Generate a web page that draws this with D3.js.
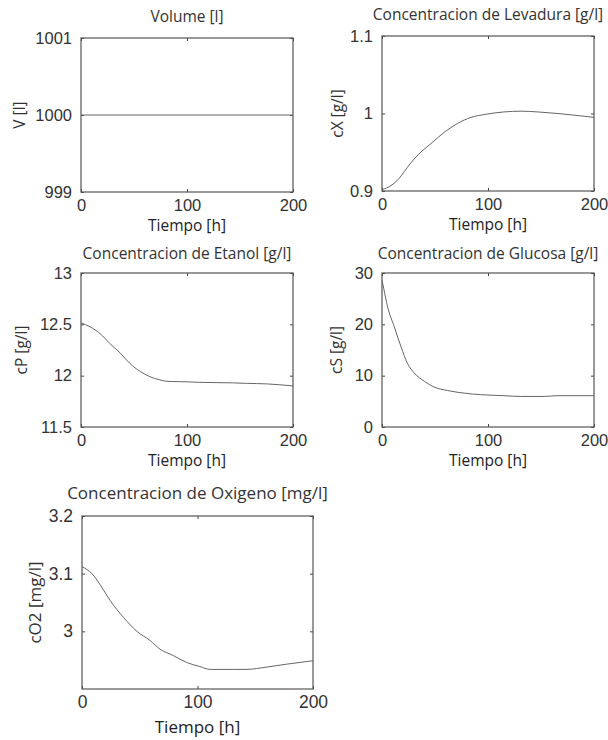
<!DOCTYPE html>
<html>
<head>
<meta charset="utf-8">
<script src="https://cdn.jsdelivr.net/npm/d3@7"></script>
<style>
  body { margin: 0; background: #fff; }
  svg { display: block; font-family: "Open Sans", sans-serif; }
  .tick text { fill: #333; }
</style>
</head>
<body>
<div id="chart"></div>
<script>
// time axis and x ticks shared by all panels
const xTicks = [0, 100, 200]

// Volume [l]
const tV = [0, 200]
const volume = [1000, 1000]

// Levadura (cX)
const tX = [0, 8.5, 16, 21, 27, 35, 46, 59, 71, 84, 98, 115, 131, 147, 166, 187, 200]
const cX = [0.9017, 0.907, 0.916, 0.925, 0.936, 0.948, 0.961, 0.976, 0.987, 0.995, 0.999, 1.002, 1.003, 1.002, 1.0, 0.997, 0.995]

// Etanol (cP)
const tP = [0, 8.5, 18, 27, 37, 46, 56, 65, 74, 81, 100, 112, 143, 156, 175, 200]
const cP = [12.515, 12.476, 12.41, 12.315, 12.22, 12.12, 12.04, 11.99, 11.96, 11.945, 11.94, 11.935, 11.93, 11.925, 11.92, 11.9]

// Glucosa (cS)
const tS = [0, 1.6, 5.3, 11.6, 18, 24, 30.5, 40, 49, 62, 77.5, 93, 115, 131, 153, 165, 200]
const cS = [28.6, 27.0, 23.4, 19.5, 15.6, 12.4, 10.5, 8.9, 7.8, 7.1, 6.6, 6.3, 6.1, 5.95, 5.95, 6.1, 6.1]

// Oxigeno (cO2)
const tO = [0, 8.6, 16, 24.5, 36, 47.5, 59, 67.6, 79, 90.6, 102, 111, 131, 142, 160, 177, 200]
const cO2 = [3.112, 3.1, 3.08, 3.053, 3.024, 3.0, 2.984, 2.969, 2.958, 2.946, 2.939, 2.934, 2.934, 2.934, 2.938, 2.943, 2.949]

const panels = [
    {title: "Volume [l]", ylabel: "V [l]", t: tV, y: volume, ydom: [999, 1001], yticks: [999, 1000, 1001],
     box: {x: 81, y: 38, w: 212, h: 154}, fs: 15.5, tfs: 16.5, titleY: 22, xlabelY: 231, ylabelX: 20},
    {title: "Concentracion de Levadura [g/l]", ylabel: "cX [g/l]", t: tX, y: cX, ydom: [0.9, 1.1], yticks: [0.9, 1, 1.1],
     box: {x: 382, y: 36, w: 212, h: 155}, fs: 15.5, tfs: 16.5, titleY: 20, xlabelY: 230, ylabelX: 338},
    {title: "Concentracion de Etanol [g/l]", ylabel: "cP [g/l]", t: tP, y: cP, ydom: [11.5, 13], yticks: [11.5, 12, 12.5, 13],
     box: {x: 81, y: 273, w: 212, h: 154}, fs: 15.5, tfs: 16.5, titleY: 259, xlabelY: 466, ylabelX: 22},
    {title: "Concentracion de Glucosa [g/l]", ylabel: "cS [g/l]", t: tS, y: cS, ydom: [0, 30], yticks: [0, 10, 20, 30],
     box: {x: 382, y: 273, w: 212, h: 154}, fs: 15.5, tfs: 16.5, titleY: 259, xlabelY: 466, ylabelX: 337},
    {title: "Concentracion de Oxigeno [mg/l]", ylabel: "cO2 [mg/l]", t: tO, y: cO2, ydom: [2.9, 3.2], yticks: [3, 3.1, 3.2],
     box: {x: 82, y: 516, w: 231, h: 173}, fs: 17, tfs: 17.5, titleY: 499, xlabelY: 733, ylabelX: 35}
]

const svg = d3.select("#chart").append("svg")
              .attr("width", 608)
              .attr("height", 740)

panels.forEach(p => {
    const b = p.box
    const x = d3.scaleLinear().domain([0, 200]).range([b.x, b.x + b.w])
    const y = d3.scaleLinear().domain(p.ydom).range([b.y + b.h, b.y])
    const g = svg.append("g")

    // axes with inward ticks, mirrored on top / right
    const style = a => a.call(s => s.select(".domain").remove())
                        .call(s => s.selectAll(".tick line").attr("stroke", "#444"))
                        .call(s => s.selectAll(".tick text").style("font-size", p.tfs + "px"))
    g.append("g").attr("transform", `translate(0,${b.y + b.h})`)
     .call(d3.axisBottom(x).tickValues(xTicks).tickSize(-3).tickFormat(d3.format("d")))
     .call(style)
     .call(s => s.selectAll(".tick text").attr("dy", "0.71em").attr("y", 7))
    g.append("g").attr("transform", `translate(0,${b.y})`)
     .call(d3.axisTop(x).tickValues(xTicks).tickSize(-3).tickFormat(""))
     .call(style)
    g.append("g").attr("transform", `translate(${b.x},0)`)
     .call(d3.axisLeft(y).tickValues(p.yticks).tickSize(-3).tickPadding(9).tickFormat(d => d3.format("")(+d.toFixed(2))))
     .call(style)
    g.append("g").attr("transform", `translate(${b.x + b.w},0)`)
     .call(d3.axisRight(y).tickValues(p.yticks).tickSize(-3).tickFormat(""))
     .call(style)

    // frame
    g.append("rect")
     .attr("x", b.x).attr("y", b.y).attr("width", b.w).attr("height", b.h)
     .attr("fill", "none").attr("stroke", "#555").attr("stroke-width", 1.2)

    // data line
    const line = d3.line().x((d, i) => x(p.t[i])).y(d => y(d)).curve(d3.curveMonotoneX)
    g.append("path")
     .datum(p.y)
     .attr("d", line)
     .attr("fill", "none")
     .attr("stroke", "#666")
     .attr("stroke-width", 1)

    // labels
    g.append("text")
     .attr("x", b.x + b.w / 2).attr("y", p.titleY)
     .attr("text-anchor", "middle")
     .attr("fill", "#333")
     .style("font-size", p.fs + "px")
     .text(p.title)
    g.append("text")
     .attr("x", b.x + b.w / 2).attr("y", p.xlabelY)
     .attr("text-anchor", "middle")
     .attr("fill", "#222")
     .style("font-size", p.fs + "px")
     .text("Tiempo [h]")
    g.append("text")
     .attr("transform", `translate(${p.ylabelX},${b.y + b.h / 2}) rotate(-90)`)
     .attr("text-anchor", "middle")
     .attr("dy", "0.35em")
     .attr("fill", "#333")
     .style("font-size", p.fs + "px")
     .text(p.ylabel)
})
</script>
</body>
</html>
